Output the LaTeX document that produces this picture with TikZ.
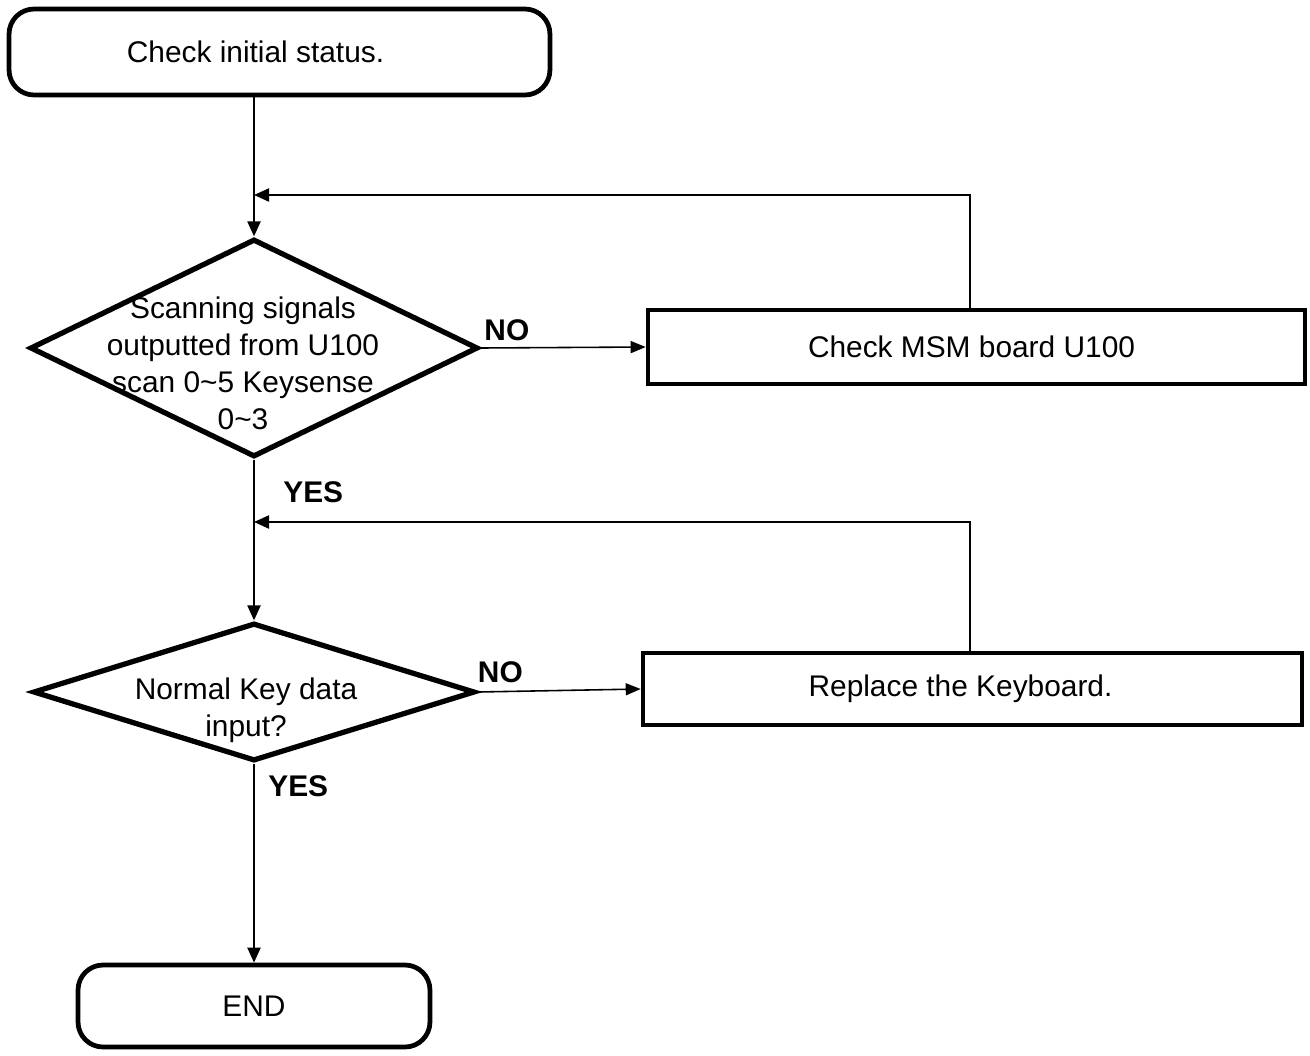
\documentclass[tikz,border=0pt]{standalone}
\usepackage{fontspec}
\setmainfont{Liberation Sans}
\usepackage{tikz}
\usetikzlibrary{arrows.meta,shapes.geometric,positioning,calc}

\tikzset{
  termbox/.style={draw, line width=2.7pt, rounded corners=0.5cm, align=center},
  procbox/.style={draw, line width=2.7pt, align=center},
  decbox/.style={diamond, draw, line width=3pt, inner sep=0pt},
  dectext/.style={align=center, inner sep=0pt},
  flow/.style={line width=1.2pt, -{Triangle[length=0.3cm,width=0.26cm]}},
  nolink/.style={line width=0.9pt, -{Triangle[length=0.3cm,width=0.24cm]}},
  answer/.style={font=\fontsize{17}{21}\selectfont\bfseries, inner sep=0pt},
}

\begin{document}
\begin{tikzpicture}[x=0.02cm,y=-0.02cm,font=\fontsize{17}{21}\selectfont]
\useasboundingbox (0,0) rectangle (1310,1055);
\node[termbox, minimum width=10.82cm, minimum height=1.72cm] (start) at (279.5,52) {\hspace*{-0.96cm}Check initial status.};
\node[decbox, minimum width=8.96cm, minimum height=4.36cm] (scan) at (254,348) {};
\node[dectext] (scantxt) at ([xshift=-0.22cm,yshift=-0.3cm]scan.center) {Scanning signals\\outputted from U100\\scan 0\textasciitilde5 Keysense\\0\textasciitilde3};
\node[procbox, minimum width=13.14cm, minimum height=1.48cm] (msm) at (976.5,347) {\hspace*{-0.2cm}Check MSM board U100};
\node[decbox, minimum width=8.84cm, minimum height=2.76cm] (keyin) at (254,692) {};
\node[dectext] (keyintxt) at ([xshift=-0.16cm,yshift=-0.36cm]keyin.center) {Normal Key data\\input?};
\node[procbox, minimum width=13.18cm, minimum height=1.44cm] (kbd) at (972.5,689) {\hspace*{-0.48cm}Replace the Keyboard.};
\node[termbox, minimum width=7.04cm, minimum height=1.64cm] (finish) at (254,1006) {END};
\coordinate (back1) at (970,195);
\coordinate (back2) at (970,522);
% answers
\node[answer, anchor=south west] (no1) at ([xshift=2pt,yshift=4pt]scan.east) {NO};
\node[answer, anchor=north west] (yes1) at ([xshift=0.58cm,yshift=-0.44cm]scan.south) {YES};
\node[answer, anchor=south west] (no2) at ([xshift=0pt,yshift=5pt]keyin.east) {NO};
\node[answer, anchor=north west] (yes2) at ([xshift=0.28cm,yshift=-0.24cm]keyin.south) {YES};
% connectors
\draw[flow] (start.south -| scan.north) -- (scan.north);
\draw[flow] (msm.north -| back1) -- (back1) -- (back1 -| scan.north);
\draw[nolink] (scan.east) -- (msm.west);
\draw[flow] (scan.south) -- (keyin.north);
\draw[flow] (kbd.north -| back2) -- (back2) -- (back2 -| keyin.north);
\draw[nolink] (keyin.east) -- (kbd.west);
\draw[flow] (keyin.south) -- (finish.north);
\end{tikzpicture}
\end{document}
